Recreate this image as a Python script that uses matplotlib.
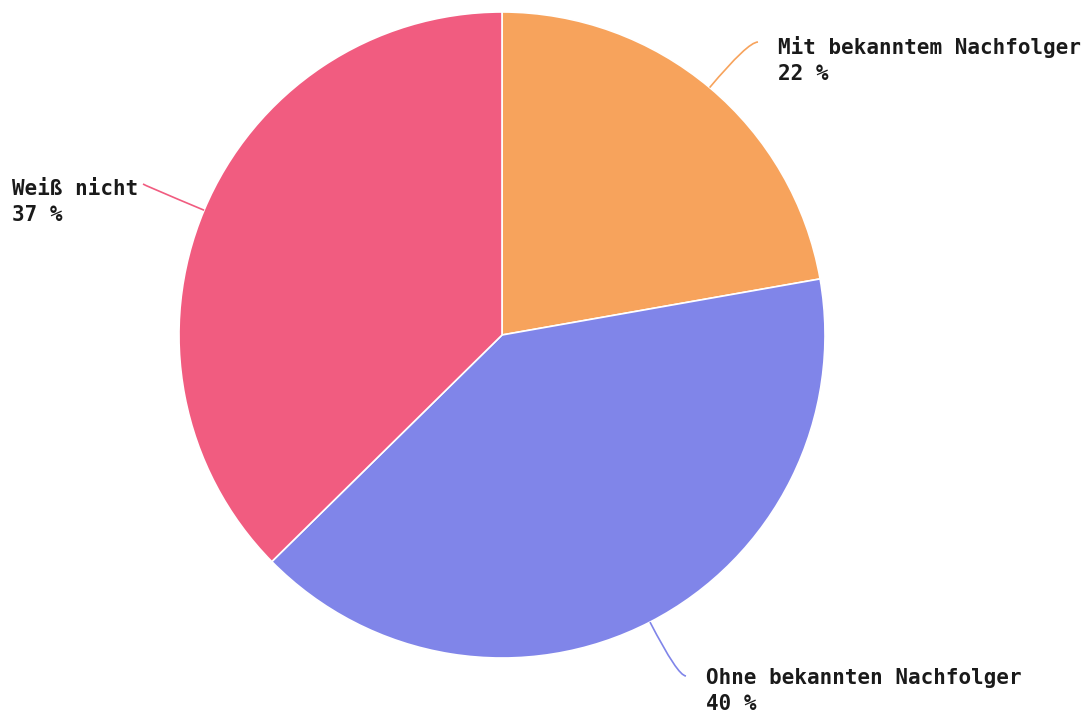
import numpy as np
import matplotlib.pyplot as plt
from matplotlib.path import Path
from matplotlib.patches import PathPatch

labels = ['Mit bekanntem Nachfolger', 'Ohne bekannten Nachfolger', 'Weiß nicht']
values = [22, 40, 37]
colors = ['#f7a35c', '#8085e9', '#f15c80']

W, H = 1085, 715
fig = plt.figure(figsize=(W / 100, H / 100), dpi=100)
ax = fig.add_axes([0, 0, 1, 1])
ax.set_xlim(0, W)
ax.set_ylim(0, H)
ax.set_aspect('equal')
ax.axis('off')

cx, cy, r = 502, H - 335, 323
wedges, _ = ax.pie(values, colors=colors, startangle=90, counterclock=False,
                   center=(cx, cy), radius=r, frame=True,
                   wedgeprops=dict(edgecolor='white', linewidth=1.2))
ax.set_xlim(0, W)
ax.set_ylim(0, H)
ax.axis('off')

# text block position (left x, top y in image pixels) and connector end
label_pos = [(778, 36), (706, 668), (12, 179)]
conn_end = [(758, 42), (686, 676), (143, 184)]

for w, lab, val, col, (tx, ty), (ex, ey) in zip(wedges, labels, values, colors,
                                                label_pos, conn_end):
    mid = np.deg2rad((w.theta1 + w.theta2) / 2)
    sx, sy = cx + r * np.cos(mid), cy + r * np.sin(mid)
    ex, ey = ex, H - ey
    # control point: radial line meets the horizontal through the end point
    t = (ey - sy) / np.sin(mid)
    kx = sx + t * np.cos(mid)
    path = Path([(sx, sy), (kx, ey), (ex, ey)],
                [Path.MOVETO, Path.CURVE3, Path.CURVE3])
    ax.add_patch(PathPatch(path, fill=False, edgecolor=col, linewidth=1.2))
    ax.text(tx, H - ty, f'{lab}\n{val} %', ha='left', va='top',
            family='DejaVu Sans Mono', fontweight='bold', fontsize=15,
            color='#1a1a1a', linespacing=1.4)

fig.savefig('out.png', dpi=100, facecolor='white')
